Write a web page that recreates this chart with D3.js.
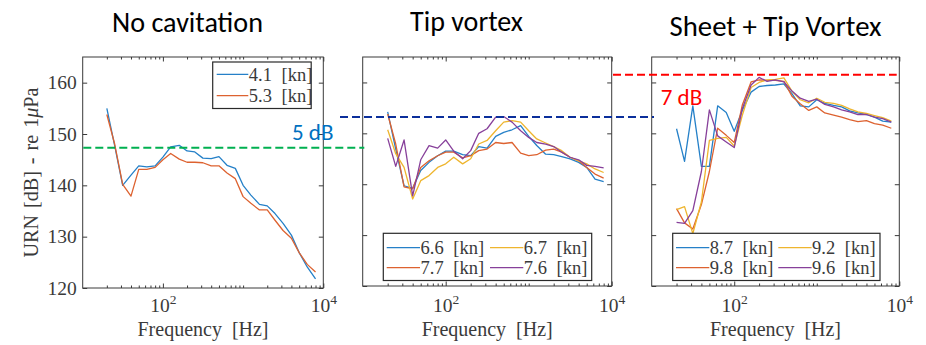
<!DOCTYPE html>
<html>
<head>
<meta charset="utf-8">
<script src="https://cdn.jsdelivr.net/npm/d3@7"></script>
<style>
  body { margin: 0; background: #fff; }
  svg { display: block; }
</style>
</head>
<body>
<svg id="chart" width="926" height="345"></svg>
<script>
// One-third-octave band centres [Hz]
const freqHz = [20, 25, 31.5, 40, 50, 63, 80, 100, 125, 160, 200, 250, 315, 400, 500,
                630, 800, 1000, 1250, 1600, 2000, 2500, 3150, 4000, 5000, 6300, 8000];

// URN levels [dB re 1 uPa] per ship speed
const noCav_4_1 = [155.0, 147.8, 140.0, 142.0, 143.8, 143.6, 143.8, 145.5, 147.5, 147.8, 146.7, 146.5, 145.3, 145.2,
                   145.6, 143.9, 143.3, 140.0, 138.1, 136.3, 136.0, 134.5, 132.6, 130.3, 126.9, 124.1, 121.8];
const noCav_5_3 = [153.8, 148.1, 140.2, 137.9, 143.1, 143.1, 143.5, 145.0, 146.2, 145.1, 144.5, 144.5, 144.4, 143.8,
                   143.8, 142.4, 141.3, 137.8, 136.5, 135.2, 135.2, 133.2, 131.2, 129.7, 126.9, 124.6, 123.1];

const tip_6_6 = [154.2, 146.9, 139.7, 139.2, 142.7, 144.3, 145.6, 146.5, 146.5, 145.8, 145.6, 147.4, 147.1, 149.4,
                 150.2, 150.7, 151.5, 149.4, 147.6, 145.9, 145.8, 145.4, 145.0, 144.3, 143.3, 141.0, 140.5];
const tip_6_7 = [150.7, 146.0, 143.3, 137.1, 140.7, 141.7, 143.3, 144.0, 145.3, 144.0, 145.0, 147.9, 148.6, 150.5,
                 152.2, 152.5, 152.2, 150.5, 148.9, 148.1, 147.4, 146.6, 145.3, 144.6, 144.0, 143.0, 142.3];
const tip_7_7 = [153.8, 147.9, 139.5, 139.1, 143.3, 144.6, 145.6, 146.3, 146.3, 145.2, 145.6, 146.6, 146.9, 148.2,
                 148.0, 148.2, 146.1, 145.6, 145.8, 146.7, 146.9, 146.3, 145.3, 144.6, 143.3, 142.0, 141.2];
const tip_7_6 = [149.0, 143.5, 148.7, 137.7, 144.8, 147.6, 147.1, 148.7, 146.5, 145.0, 146.6, 150.0, 150.9, 153.2,
                 153.3, 152.2, 150.5, 149.2, 148.2, 147.9, 147.4, 146.3, 145.3, 144.8, 143.7, 143.5, 143.2];

const sheet_8_7 = [150.9, 144.5, 155.4, 143.5, 143.5, 155.4, 154.1, 150.4, 154.5, 158.1, 159.2, 159.4, 159.5, 159.7,
                   157.8, 155.4, 155.2, 156.6, 155.9, 155.5, 155.2, 154.4, 154.0, 153.7, 153.2, 152.4, 152.2];
const sheet_9_2 = [135.0, 135.6, 130.3, 136.5, 148.6, 149.0, 149.2, 147.5, 153.5, 159.0, 160.0, 160.5, 160.6, 160.9,
                   158.3, 156.6, 156.0, 156.9, 156.1, 155.9, 155.5, 154.8, 154.2, 153.9, 153.5, 153.1, 152.4];
const sheet_9_8 = [135.2, 132.4, 131.2, 136.0, 142.5, 151.0, 149.6, 148.2, 155.5, 160.1, 160.5, 160.4, 160.4, 160.2,
                   157.3, 155.8, 154.5, 155.2, 154.0, 153.6, 153.2, 152.7, 152.3, 152.5, 151.9, 151.6, 151.0];
const sheet_9_6 = [132.5, 132.3, 134.8, 142.5, 154.6, 149.5, 148.3, 147.2, 154.8, 159.5, 161.0, 160.2, 160.5, 160.1,
                   158.3, 156.9, 156.3, 156.7, 155.7, 155.2, 154.6, 154.2, 153.7, 153.7, 153.2, 152.9, 152.2];

const panelTitles = ["No cavitation", "Tip vortex", "Sheet + Tip Vortex"];
const yTickValues = [120, 130, 140, 150, 160];
const xTickValues = [1e2, 1e4];
const xTickExponents = ["2", "4"];
const xMinorTicks = [20, 30, 40, 50, 60, 70, 80, 90, 200, 300, 400, 500, 600, 700, 800, 900,
                     1000, 2000, 3000, 4000, 5000, 6000, 7000, 8000, 9000];

// Reference levels [dB] of the three regimes and the step labels between them
const levelNoCav = 147.3;
const levelTip = 153.2;
const levelSheet = 161.5;
const stepLabels = ["5 dB", "7 dB"];

// line colours (MATLAB default order)
const C = { blue: "#2580C8", orange: "#DD6230", yellow: "#EEB52E", purple: "#87409A" };

const panels = [
  {
    box: [82.7, 323.3, 57, 288], title: panelTitles[0], titleX: 187.5, titleY: 32.3, titleW: 151, yLabels: true,
    series: [
      { label: "4.1 [kn]", values: noCav_4_1, color: C.blue },
      { label: "5.3 [kn]", values: noCav_5_3, color: C.orange }
    ],
    legend: { x: 212.7, y: 62, w: 98.5, h: 46.5, cols: [216.7], rows: [74.3, 95.7], lineLen: 31.6, order: [[0, 0], [0, 1]] }
  },
  {
    box: [362.7, 611.7, 57, 286], title: panelTitles[1], titleX: 466.5, titleY: 30.7, titleW: 113, yLabels: false,
    series: [
      { label: "6.6 [kn]", values: tip_6_6, color: C.blue },
      { label: "7.7 [kn]", values: tip_7_7, color: C.orange },
      { label: "6.7 [kn]", values: tip_6_7, color: C.yellow },
      { label: "7.6 [kn]", values: tip_7_6, color: C.purple }
    ],
    legend: { x: 383.3, y: 233.3, w: 208.4, h: 47.2, cols: [386.7, 490], rows: [247.7, 267.7], lineLen: 33.3,
              order: [[0, 0], [0, 1], [1, 0], [1, 1]] }
  },
  {
    box: [651.7, 899.3, 57, 286], title: panelTitles[2], titleX: 775.5, titleY: 35.7, titleW: 212, yLabels: false,
    series: [
      { label: "8.7 [kn]", values: sheet_8_7, color: C.blue },
      { label: "9.8 [kn]", values: sheet_9_8, color: C.orange },
      { label: "9.2 [kn]", values: sheet_9_2, color: C.yellow },
      { label: "9.6 [kn]", values: sheet_9_6, color: C.purple }
    ],
    legend: { x: 672.7, y: 233.3, w: 207.3, h: 47.2, cols: [676, 778.3], rows: [247.7, 267.7], lineLen: 33.3,
              order: [[0, 0], [0, 1], [1, 0], [1, 1]] }
  }
];

const svg = d3.select("#chart");
const serif = "Liberation Serif";
const sans = "Carlito";
const axisColor = "#3a3a3a";

// scale a text's font size so that it spans the given width
function fitWidth(sel, width) {
  const fs = parseFloat(sel.attr("font-size"));
  const w = sel.node().getComputedTextLength();
  if (w > 0) sel.attr("font-size", (fs * width / w).toFixed(2));
}

const scales = panels.map(p => {
  const [x0, x1, y0, y1] = p.box;
  return {
    x: d3.scaleLog().domain([10, 1e4]).range([x0, x1]),
    y: d3.scaleLinear().domain([120, 165]).range([y1, y0])
  };
});

panels.forEach((p, i) => {
  const [x0, x1, y0, y1] = p.box;
  const { x, y } = scales[i];
  const g = svg.append("g");

  // title
  const title = svg.append("text")
    .attr("x", p.titleX).attr("y", p.titleY)
    .attr("text-anchor", "middle")
    .attr("font-family", sans).attr("font-size", 26)
    .attr("fill", "#000")
    .text(p.title);
  fitWidth(title, p.titleW);

  // data lines
  const line = d3.line().x((d, k) => x(freqHz[k])).y(d => y(d));
  g.selectAll("path.series").data(p.series).join("path")
    .attr("class", "series")
    .attr("d", s => line(s.values))
    .attr("fill", "none")
    .attr("stroke", s => s.color)
    .attr("stroke-width", 1.3)
    .attr("stroke-linejoin", "round");

  // axes (ticks pointing inward, box on)
  const styleAxis = sel => {
    sel.attr("color", axisColor).attr("font-family", serif);
    sel.select(".domain").remove();
  };

  const left = g.append("g").attr("transform", `translate(${x0},0)`)
    .call(d3.axisLeft(y).tickValues(yTickValues).tickSizeInner(-4.5).tickSizeOuter(0).tickPadding(6)
      .tickFormat(p.yLabels ? d3.format("d") : ""));
  styleAxis(left);
  left.selectAll("text").attr("font-family", serif).attr("font-size", 19.5).attr("fill", axisColor);

  const right = g.append("g").attr("transform", `translate(${x1},0)`)
    .call(d3.axisRight(y).tickValues(yTickValues).tickSizeInner(-4.5).tickSizeOuter(0).tickFormat(""));
  styleAxis(right);

  const bottomMinor = g.append("g").attr("transform", `translate(0,${y1})`)
    .call(d3.axisBottom(x).tickValues(xMinorTicks).tickSizeInner(-2.5).tickSizeOuter(0).tickFormat(""));
  styleAxis(bottomMinor);
  const topMinor = g.append("g").attr("transform", `translate(0,${y0})`)
    .call(d3.axisTop(x).tickValues(xMinorTicks).tickSizeInner(-2.5).tickSizeOuter(0).tickFormat(""));
  styleAxis(topMinor);

  const bottom = g.append("g").attr("transform", `translate(0,${y1})`)
    .call(d3.axisBottom(x).tickValues(xTickValues).tickSizeInner(-4.5).tickSizeOuter(0).tickFormat(""));
  styleAxis(bottom);
  bottom.selectAll(".tick text").each(function (d, k) {
    const t = d3.select(this)
      .attr("y", 311.7 - y1).attr("dy", null)
      .attr("font-family", serif).attr("font-size", 19.5).attr("fill", axisColor)
      .attr("text-anchor", "middle");
    t.append("tspan").text("10");
    t.append("tspan").attr("dy", -8).attr("font-size", 13.5).text(xTickExponents[k]);
  });
  const top = g.append("g").attr("transform", `translate(0,${y0})`)
    .call(d3.axisTop(x).tickValues(xTickValues).tickSizeInner(-4.5).tickSizeOuter(0).tickFormat(""));
  styleAxis(top);

  // box
  g.append("rect")
    .attr("x", x0).attr("y", y0).attr("width", x1 - x0).attr("height", y1 - y0)
    .attr("fill", "none").attr("stroke", axisColor).attr("stroke-width", 1);

  // x label
  svg.append("text")
    .attr("x", (x0 + x1) / 2).attr("y", 335.5)
    .attr("text-anchor", "middle")
    .attr("font-family", serif).attr("font-size", 20).attr("fill", axisColor)
    .attr("word-spacing", 5)
    .text("Frequency [Hz]");

  // legend
  const L = p.legend;
  const lg = svg.append("g");
  lg.append("rect")
    .attr("x", L.x).attr("y", L.y).attr("width", L.w).attr("height", L.h)
    .attr("fill", "#fff").attr("stroke", "#2a2a2a").attr("stroke-width", 1.2);
  p.series.forEach((s, k) => {
    const [c, r] = L.order[k];
    const lx = L.cols[c], ly = L.rows[r];
    lg.append("line")
      .attr("x1", lx).attr("x2", lx + L.lineLen).attr("y1", ly).attr("y2", ly)
      .attr("stroke", s.color).attr("stroke-width", 1.3);
    lg.append("text")
      .attr("x", lx + L.lineLen + 0.5).attr("y", ly).attr("dy", "0.34em")
      .attr("font-family", serif).attr("font-size", 18.5).attr("fill", axisColor)
      .attr("word-spacing", 5)
      .text(s.label);
  });
});

// y label on the first panel
{
  const [x0, x1, y0, y1] = panels[0].box;
  const t = svg.append("text")
    .attr("transform", `translate(38,${(y0 + y1) / 2}) rotate(-90)`)
    .attr("text-anchor", "middle")
    .attr("font-family", serif).attr("font-size", 20).attr("fill", axisColor)
    .attr("word-spacing", 2);
  t.append("tspan").text("URN [dB] - re 1");
  t.append("tspan").attr("font-style", "italic").text("μ");
  t.append("tspan").text("Pa");
  fitWidth(t, 170);
}

// dashed reference levels spanning neighbouring panels
const refLevels = [
  { level: levelNoCav, scale: scales[0].y, from: 83.3, to: 364.3, color: "#00B050" },
  { level: levelTip, scale: scales[1].y, from: 340, to: 654, color: "#0B2F9B" },
  { level: levelSheet, scale: scales[2].y, from: 613, to: 896.7, color: "#FF0000" }
];
svg.selectAll("line.ref").data(refLevels).join("line")
  .attr("class", "ref")
  .attr("x1", d => d.from).attr("x2", d => d.to)
  .attr("y1", d => d.scale(d.level)).attr("y2", d => d.scale(d.level))
  .attr("stroke", d => d.color)
  .attr("stroke-width", 2)
  .attr("stroke-dasharray", "8,4");

// step annotations
svg.append("text")
  .attr("x", 292).attr("y", 140)
  .attr("font-family", sans).attr("font-size", 23).attr("fill", "#0070C0")
  .text(stepLabels[0]);
svg.append("text")
  .attr("x", 660.7).attr("y", 105)
  .attr("font-family", sans).attr("font-size", 23).attr("fill", "#FF0000")
  .text(stepLabels[1]);
</script>
</body>
</html>
